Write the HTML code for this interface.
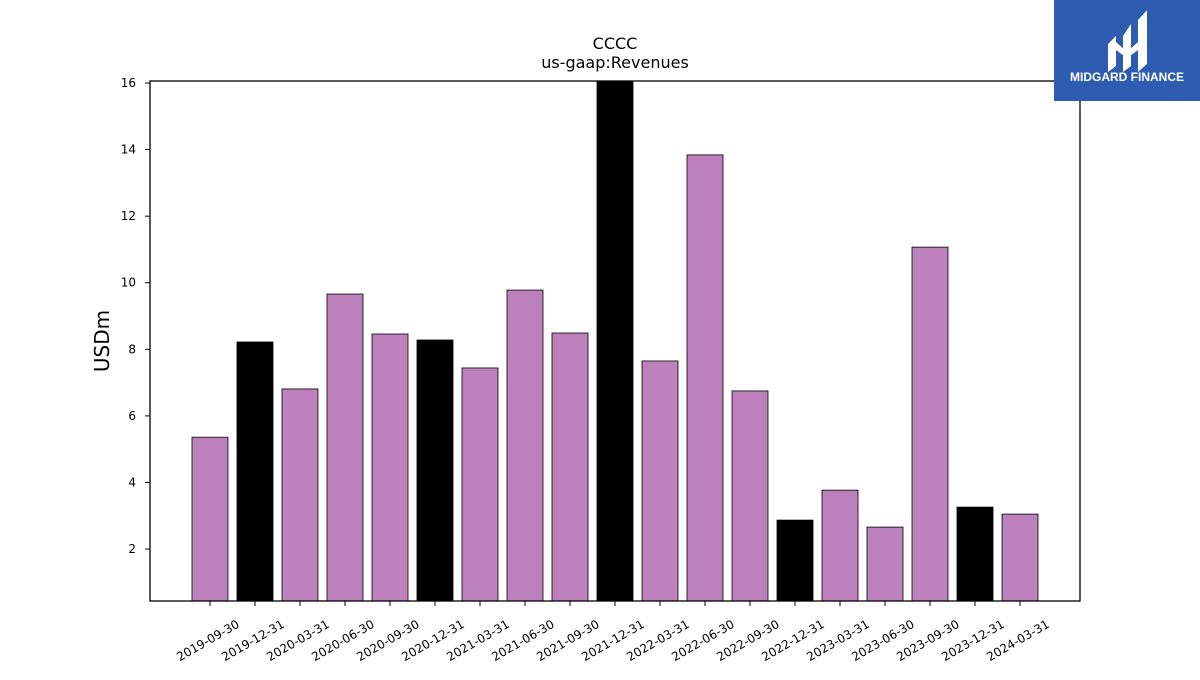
<!DOCTYPE html>
<html><head><meta charset="utf-8"><style>
body{margin:0;background:#fff;width:1200px;height:675px;overflow:hidden;font-family:"Liberation Sans","DejaVu Sans",sans-serif;}
</style></head><body>
<svg id="chart" width="1200" height="675" xmlns="http://www.w3.org/2000/svg" font-family="DejaVu Sans, Liberation Sans, sans-serif">
<text x="615" y="49" font-size="16" text-anchor="middle">CCCC</text>
<text x="615" y="68" font-size="16" text-anchor="middle">us-gaap:Revenues</text>
<text x="0" y="0" font-size="20" text-anchor="middle" transform="translate(109,341) rotate(-90)">USDm</text>
<g id="bars"></g>
<g id="xticks"></g>
<g id="yticks"></g>
<rect x="150" y="81" width="930" height="520" fill="none" stroke="#000" stroke-width="1.3"/>
<g>
<rect x="1054" y="0" width="146" height="101" fill="#2d5cb0"/>
<path d="M1108 44 L1116 36 L1116 66 L1108 72 Z M1123 36 L1131 24 L1131 66 L1123 72 Z M1138 20 L1147 10 L1147 64 L1138 72 Z M1116 42 L1127 52 L1138 42 L1138 50 L1127 58 L1116 50Z" fill="#fff"/>
<text x="1127" y="81" font-size="12" font-weight="bold" fill="#fff" text-anchor="middle" font-family="Liberation Sans, sans-serif">MIDGARD FINANCE</text>
</g>
</svg>
<script>
const categories=["2019-09-30","2019-12-31","2020-03-31","2020-06-30","2020-09-30","2020-12-31","2021-03-31","2021-06-30","2021-09-30","2021-12-31","2022-03-31","2022-06-30","2022-09-30","2022-12-31","2023-03-31","2023-06-30","2023-09-30","2023-12-31","2024-03-31"];
const revenues=[5.36,8.22,6.81,9.66,8.46,8.28,7.44,9.78,8.49,16.5,7.65,13.84,6.75,2.87,3.77,2.66,11.07,3.26,3.05];
const isAnnual=[false,true,false,false,false,true,false,false,false,true,false,false,false,true,false,false,false,true,false];
const yTicks=[2,4,6,8,10,12,14,16];
const NS="http://www.w3.org/2000/svg";
const plotL=150,plotR=1080,plotT=81,plotB=601;
const yMin=0.44,yMax=16.06;
function yScale(v){return plotB-(v-yMin)/(yMax-yMin)*(plotB-plotT);}
const step=(plotR-plotL)/(categories.length-1+2*1.333);
function xScale(i){return plotL+step*(1.333+i);}
const bw=step*0.8;
const bars=document.getElementById('bars'),xt=document.getElementById('xticks'),yt=document.getElementById('yticks');
categories.forEach((c,i)=>{
 const v=Math.min(revenues[i],yMax);
 const r=document.createElementNS(NS,'rect');
 
 
 const y=yScale(v);
 r.setAttribute('x',xScale(i)-bw/2);r.setAttribute('y',y);r.setAttribute('width',bw);r.setAttribute('height',plotB-y);
 r.setAttribute('fill',isAnnual[i]?'#000':'#bc80bd');r.setAttribute('stroke','#000');r.setAttribute('stroke-width','0.8');
 bars.appendChild(r);
 const t=document.createElementNS(NS,'line');
 
 
 t.setAttribute('x1',xScale(i));t.setAttribute('x2',xScale(i));t.setAttribute('y1',plotB);t.setAttribute('y2',plotB+5);t.setAttribute('stroke','#000');
 xt.appendChild(t);
 const l=document.createElementNS(NS,'text');
 
 
 l.setAttribute('font-size','12');l.setAttribute('text-anchor','middle');
 l.setAttribute('transform','translate('+xScale(i)+',644) rotate(-30)');
 l.textContent=c;xt.appendChild(l);
});
yTicks.forEach(v=>{
 const y=yScale(v);
 const t=document.createElementNS(NS,'line');
 
 
 t.setAttribute('x1',plotL-5);t.setAttribute('x2',plotL);t.setAttribute('y1',y);t.setAttribute('y2',y);t.setAttribute('stroke','#000');
 yt.appendChild(t);
 const l=document.createElementNS(NS,'text');
 
 
 l.setAttribute('font-size','12');l.setAttribute('text-anchor','end');
 l.setAttribute('x',plotL-14);l.setAttribute('y',y+4);l.textContent=v;yt.appendChild(l);
});
</script>
</body></html>
